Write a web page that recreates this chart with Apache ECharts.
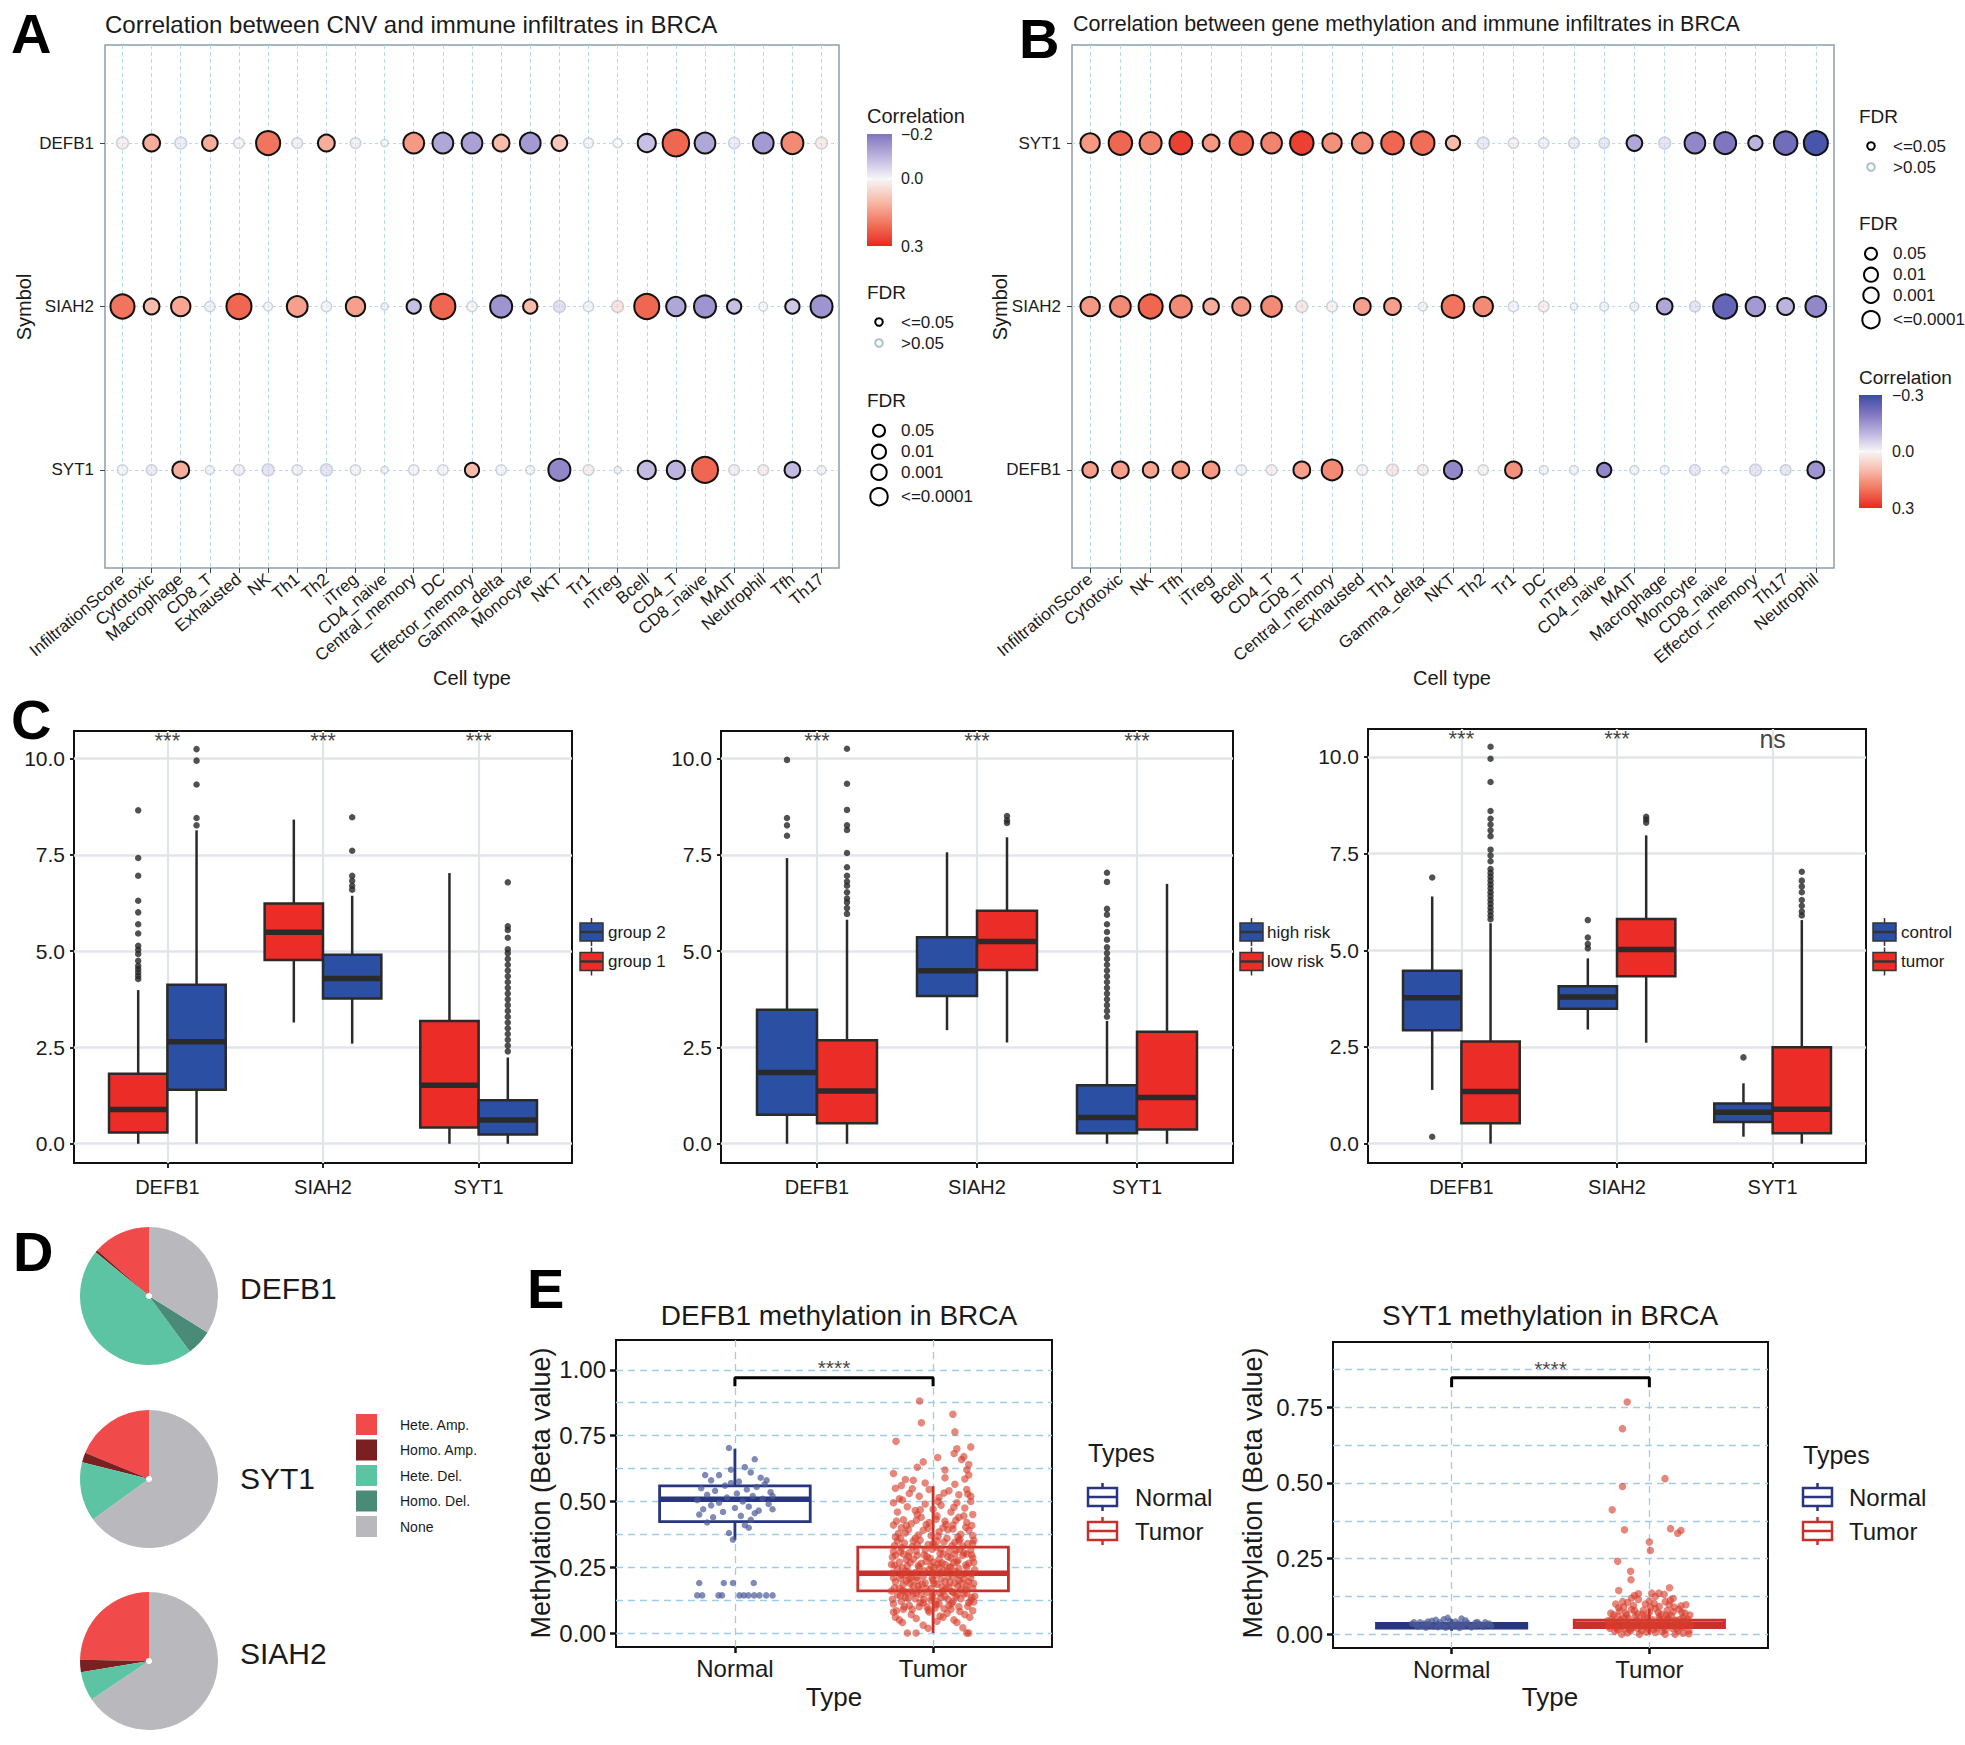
<!DOCTYPE html>
<html>
<head>
<meta charset="utf-8">
<script src="https://cdn.jsdelivr.net/npm/echarts@6/dist/echarts.min.js"></script>
<style>
html,body{margin:0;padding:0;background:#ffffff;}
#chart{width:1965px;height:1745px;}
</style>
</head>
<body>
<div id="chart"></div>
<script>
// ================= DATA =================
// ---- Panel A: CNV vs immune infiltrates ----
const aGenes = ['DEFB1', 'SIAH2', 'SYT1'];
const aCells = ['InfiltrationScore','Cytotoxic','Macrophage','CD8_T','Exhausted','NK','Th1','Th2','iTreg','CD4_naive','Central_memory','DC','Effector_memory','Gamma_delta','Monocyte','NKT','Tr1','nTreg','Bcell','CD4_T','CD8_naive','MAIT','Neutrophil','Tfh','Th17'];
const aCorr_DEFB1 = [0.03,0.12,-0.03,0.12,-0.01,0.20,-0.02,0.12,-0.02,0.00,0.15,-0.12,-0.13,0.10,-0.14,0.08,-0.01,0.00,-0.08,0.22,-0.12,-0.03,-0.14,0.17,0.04];
const aCorr_SIAH2 = [0.20,0.10,0.13,-0.02,0.22,-0.01,0.14,0.01,0.14,-0.01,-0.08,0.22,0.01,-0.15,0.10,-0.06,-0.01,0.06,0.22,-0.12,-0.15,-0.08,0.00,-0.07,-0.15];
const aCorr_SYT1  = [-0.01,-0.03,0.12,-0.01,-0.02,-0.05,-0.02,-0.05,-0.01,-0.01,-0.01,-0.01,0.10,-0.01,-0.01,-0.17,0.03,-0.01,-0.09,-0.10,0.22,0.03,0.03,-0.09,-0.01];
// -log10(FDR)
const aLogFdr_DEFB1 = [1.25,2.5,1.25,2.2,0.85,4.35,0.95,2.5,0.95,0.05,3.5,3.5,3.5,2.5,3.5,2.2,0.77,0.59,2.85,5.0,3.5,1.1,3.5,3.83,1.25];
const aLogFdr_SIAH2 = [4.35,2.2,3.15,0.85,4.6,0.5,3.5,0.85,3.15,0.05,1.85,4.6,0.85,3.83,1.85,1.28,0.85,1.25,4.6,3.15,3.83,1.85,0.5,1.85,3.83];
const aLogFdr_SYT1  = [0.85,0.95,2.5,0.5,0.95,1.28,0.85,1.28,0.85,0.05,0.85,0.85,1.85,0.85,0.5,3.83,0.95,0.05,2.85,2.85,4.85,0.95,0.95,2.2,0.5];

// ---- Panel B: methylation vs immune infiltrates ----
const bGenes = ['SYT1', 'SIAH2', 'DEFB1'];
const bCells = ['InfiltrationScore','Cytotoxic','NK','Tfh','iTreg','Bcell','CD4_T','CD8_T','Central_memory','Exhausted','Th1','Gamma_delta','NKT','Th2','Tr1','DC','nTreg','CD4_naive','MAIT','Macrophage','Monocyte','CD8_naive','Effector_memory','Th17','Neutrophil'];
const bCorr_SYT1  = [0.15,0.22,0.18,0.27,0.15,0.22,0.18,0.27,0.16,0.17,0.22,0.21,0.10,-0.04,0.02,-0.02,-0.03,-0.04,-0.12,-0.05,-0.17,-0.20,-0.10,-0.22,-0.28];
const bCorr_SIAH2 = [0.15,0.17,0.22,0.17,0.12,0.15,0.17,0.05,0.02,0.14,0.14,-0.01,0.20,0.17,-0.01,0.03,0.00,-0.01,-0.02,-0.12,-0.05,-0.24,-0.14,-0.10,-0.17];
const bCorr_DEFB1 = [0.14,0.14,0.13,0.15,0.15,-0.01,0.03,0.14,0.17,0.02,0.05,0.03,-0.17,0.02,0.16,-0.01,-0.01,-0.17,-0.01,-0.01,-0.04,-0.01,-0.05,-0.04,-0.15];
const bLogFdr_SYT1  = [3.15,4.2,3.83,4.0,2.5,4.2,3.5,4.2,3.15,3.5,4.0,4.2,1.85,1.25,0.85,0.85,0.95,0.95,2.2,1.25,3.5,3.83,1.85,4.2,4.35];
const bLogFdr_SIAH2 = [3.15,3.5,4.35,3.83,2.2,2.85,3.5,1.25,0.95,2.5,2.5,0.5,4.0,3.15,0.85,0.95,0.05,0.5,0.5,2.2,0.95,4.35,3.15,2.5,3.5];
const bLogFdr_DEFB1 = [2.2,2.5,2.2,2.5,2.5,0.85,0.95,2.5,3.5,0.95,1.25,0.95,2.85,0.85,2.5,0.5,0.5,1.85,0.5,0.5,0.95,0.05,1.25,0.95,2.5];

// colour scale for correlation (values -> colours)
const corrStopValues = [-0.3,-0.2,-0.1,0,0.1,0.2,0.3];
const corrStopColors = ['#3B4CA6','#8075C0','#BCB3DF','#F7F5F7','#F8BBAA','#F1755E','#E8291F'];
const aCorrTicks = [-0.2, 0.0, 0.3];
const bCorrTicks = [-0.3, 0.0, 0.3];
const fdrSigLabels = ['<=0.05', '>0.05'];
const fdrSizeLabels = ['0.05', '0.01', '0.001', '<=0.0001'];

// ---- Panel C: boxplots [min, Q1, median, Q3, max] per gene ----
const cGenes = ['DEFB1', 'SIAH2', 'SYT1'];
const cYTicks = [0, 2.5, 5, 7.5, 10];
// C1: group 1 (left, red) / group 2 (right, blue)
const c1Names = ['group 1', 'group 2'];
const c1Stats_g1 = [[0,0.29,0.89,1.82,3.99],[3.15,4.77,5.49,6.24,8.42],[0,0.42,1.52,3.19,7.03]];
const c1Stats_g2 = [[0,1.40,2.65,4.13,8.14],[2.60,3.77,4.29,4.91,6.44],[0,0.24,0.62,1.13,2.24]];
const c1Out_g1 = [[4.28,4.36,4.45,4.54,4.62,4.75,4.93,5.04,5.14,5.46,5.70,6.01,6.31,6.96,7.42,8.66],[],[]];
const c1Out_g2 = [[8.27,8.46,9.33,9.95,10.25],[6.60,6.70,6.83,6.96,7.61,8.48],[2.40,2.55,2.70,2.85,3.00,3.15,3.30,3.45,3.60,3.75,3.90,4.05,4.20,4.35,4.50,4.65,4.80,4.95,5.05,5.35,5.55,5.65,6.79]];
const c1Sig = ['***','***','***'];
// C2: high risk (left, blue) / low risk (right, red)
const c2Names = ['high risk', 'low risk'];
const c2Stats_high = [[0,0.75,1.85,3.48,7.42],[2.95,3.84,4.49,5.36,7.57],[0,0.27,0.68,1.52,3.19]];
const c2Stats_low  = [[0,0.53,1.37,2.69,5.82],[2.63,4.51,5.25,6.05,7.96],[0,0.37,1.20,2.91,6.75]];
const c2Out_high = [[8.00,8.27,8.46,9.97],[],[3.30,3.45,3.60,3.75,3.90,4.05,4.20,4.35,4.50,4.65,4.80,4.95,5.10,5.30,5.50,5.70,5.95,6.10,6.80,7.04]];
const c2Out_low  = [[5.97,6.12,6.27,6.37,6.53,6.70,6.81,6.96,7.18,7.55,8.15,8.27,8.67,9.35,10.26],[8.33,8.40,8.51],[]];
const c2Sig = ['***','***','***'];
// C3: control (left, blue) / tumor (right, red)
const c3Names = ['control', 'tumor'];
const c3Stats_control = [[1.39,2.93,3.77,4.47,6.39],[2.95,3.49,3.79,4.07,4.79],[0.18,0.56,0.81,1.04,1.56]];
const c3Stats_tumor   = [[0,0.53,1.35,2.64,5.70],[2.61,4.33,5.02,5.81,7.97],[0,0.27,0.89,2.49,5.78]];
const c3Out_control = [[0.18,6.88],[5.05,5.16,5.33,5.78],[2.23]];
const c3Out_tumor   = [[5.80,5.90,6.00,6.10,6.20,6.30,6.40,6.50,6.60,6.70,6.80,6.90,7.00,7.10,7.30,7.45,7.60,7.95,8.10,8.25,8.40,8.60,9.35,9.95,10.26],[8.30,8.38,8.45],[5.90,6.00,6.15,6.30,6.50,6.65,6.80,7.03]];
const c3Sig = ['***','***','ns'];

// ---- Panel D: CNV composition (%) ----
const dGenes = ['DEFB1', 'SYT1', 'SIAH2'];
const dTypes = ['Hete. Amp.', 'Homo. Amp.', 'Hete. Del.', 'Homo. Del.', 'None'];
const dDEFB1 = [13.5, 0.6, 46.0, 6.0, 33.9];
const dSYT1  = [18.8, 2.3, 13.8, 0.1, 65.0];
const dSIAH2 = [24.7, 2.9, 6.8, 0.0, 65.6];

// ---- Panel E: methylation beta values ----
const eTypes = ['Normal', 'Tumor'];
const e1Title = 'DEFB1 methylation in BRCA';
const e2Title = 'SYT1 methylation in BRCA';
const e1Stats = [[0.354,0.423,0.508,0.559,0.700],[0.000,0.160,0.227,0.326,0.558]];
const e2Stats = [[0.012,0.021,0.028,0.036,0.050],[0.000,0.022,0.033,0.047,0.085]];
const e1YTicks = [0, 0.25, 0.5, 0.75, 1.0];
const e1YGrid  = [0, 0.125, 0.25, 0.375, 0.5, 0.625, 0.75, 0.875, 1.0];
const e2YTicks = [0, 0.25, 0.5, 0.75];
const e2YGrid  = [0, 0.125, 0.25, 0.375, 0.5, 0.625, 0.75, 0.875];
const e1Bracket = [[1,0.937],[1,0.97],[2,0.97],[2,0.937]];
const e2Bracket = [[1,0.816],[1,0.847],[2,0.847],[2,0.816]];
const e1SigLabel = [[1.5, 1.009, '****']];
const e2SigLabel = [[1.5, 0.878, '****']];
// jittered points: [x offset from group centre, beta value]
const e1NormalPts = [
 [-0.18,0.19],[-0.056,0.19],[-0.01,0.19],[0.095,0.19],
 [-0.19,0.143],[-0.165,0.143],[-0.083,0.143],[-0.065,0.143],[0.023,0.143],[0.045,0.143],[0.068,0.143],[0.097,0.143],[0.124,0.143],[0.158,0.143],[0.19,0.143],
 [-0.03,0.703],[0.10,0.66],[-0.02,0.62],[0.05,0.63],[-0.08,0.60],[0.08,0.61],[0.13,0.59],[-0.12,0.58],[0.02,0.575],[-0.02,0.57],[0.15,0.565],[-0.05,0.56],[0.11,0.555],[-0.17,0.55],[0.06,0.545],[-0.10,0.54],[0.18,0.535],[0.01,0.53],[-0.14,0.525],[0.09,0.52],[-0.04,0.515],[0.14,0.51],[-0.19,0.505],[0.04,0.50],[-0.08,0.495],[0.17,0.49],[-0.12,0.485],[0.07,0.48],[0.00,0.475],[-0.16,0.47],[0.12,0.465],[-0.06,0.46],[0.10,0.455],[-0.18,0.45],[0.03,0.445],[-0.11,0.44],[0.08,0.43],[-0.14,0.42],[0.05,0.41],[0.07,0.40],[-0.03,0.38],[-0.01,0.355],[0.16,0.58],[0.19,0.52],[-0.15,0.60],[0.19,0.47]
];
const e1TumorPts = [
 [-0.13,0.0],[-0.086,0.0],[0.17,0.0],[0.18,0.0],[-0.05,0.03],[0.12,0.04],[-0.17,0.05],[0.02,0.045],[0.15,0.02],
 [-0.19,0.06],[-0.11,0.07],[-0.02,0.08],[0.05,0.06],[0.09,0.09],[0.16,0.07],[0.2,0.085],[-0.15,0.09],[-0.07,0.1],[0.01,0.095],[0.13,0.1],[-0.2,0.08],[0.07,0.075],
 [-0.2,0.11],[-0.16,0.12],[-0.12,0.105],[-0.09,0.13],[-0.05,0.115],[-0.01,0.125],[0.03,0.11],[0.06,0.14],[0.1,0.12],[0.14,0.13],[0.18,0.115],[0.21,0.14],[-0.18,0.145],[-0.14,0.135],[-0.06,0.145],[0.0,0.15],[0.04,0.135],[0.08,0.105],[0.12,0.145],[0.17,0.15],[-0.1,0.15],[-0.03,0.1],[0.19,0.125],
 [-0.21,0.16],[-0.17,0.17],[-0.13,0.155],[-0.1,0.18],[-0.07,0.165],[-0.04,0.19],[-0.01,0.17],[0.02,0.185],[0.05,0.16],[0.08,0.175],[0.11,0.19],[0.14,0.165],[0.17,0.18],[0.2,0.17],[-0.19,0.195],[-0.15,0.185],[-0.08,0.2],[0.0,0.2],[0.06,0.195],[0.13,0.2],[0.18,0.195],[-0.11,0.16],[0.1,0.155],[-0.03,0.155],
 [-0.2,0.21],[-0.16,0.22],[-0.12,0.205],[-0.09,0.23],[-0.05,0.215],[-0.02,0.24],[0.01,0.22],[0.04,0.205],[0.07,0.235],[0.1,0.215],[0.13,0.245],[0.16,0.225],[0.19,0.21],[0.21,0.24],[-0.18,0.245],[-0.14,0.235],[-0.07,0.25],[0.03,0.25],[0.09,0.25],[0.17,0.25],[-0.11,0.21],[0.0,0.23],[0.12,0.225],
 [-0.21,0.26],[-0.17,0.27],[-0.13,0.255],[-0.1,0.28],[-0.06,0.265],[-0.03,0.29],[0.0,0.27],[0.03,0.28],[0.06,0.26],[0.09,0.285],[0.12,0.27],[0.15,0.295],[0.18,0.265],[0.2,0.285],[-0.19,0.295],[-0.15,0.3],[-0.08,0.295],[0.05,0.3],[0.11,0.3],[0.17,0.3],[-0.01,0.255],
 [-0.2,0.31],[-0.16,0.325],[-0.12,0.305],[-0.08,0.335],[-0.04,0.315],[0.0,0.34],[0.04,0.32],[0.08,0.31],[0.11,0.345],[0.15,0.33],[0.19,0.315],[-0.18,0.35],[-0.1,0.35],[0.02,0.35],[0.13,0.35],[0.2,0.34],
 [-0.19,0.365],[-0.14,0.38],[-0.09,0.36],[-0.05,0.39],[-0.01,0.37],[0.03,0.385],[0.07,0.36],[0.1,0.395],[0.14,0.375],[0.18,0.39],[-0.16,0.4],[0.05,0.4],[0.2,0.37],
 [-0.2,0.41],[-0.15,0.43],[-0.11,0.415],[-0.06,0.44],[-0.02,0.42],[0.02,0.445],[0.06,0.425],[0.1,0.41],[0.13,0.44],[0.17,0.42],[0.2,0.45],[-0.08,0.45],
 [-0.18,0.46],[-0.13,0.48],[-0.09,0.465],[-0.04,0.49],[0.0,0.47],[0.04,0.485],[0.09,0.46],[0.12,0.495],[0.16,0.475],[0.19,0.5],[-0.2,0.495],
 [-0.17,0.51],[-0.12,0.53],[-0.07,0.52],[-0.02,0.545],[0.03,0.515],[0.08,0.54],[0.13,0.525],[0.17,0.545],[-0.19,0.55],[0.19,0.52],
 [-0.16,0.56],[-0.1,0.58],[-0.04,0.57],[0.06,0.59],[0.11,0.565],[0.16,0.585],[-0.14,0.583],[0.18,0.6],
 [-0.2,0.606],[0.06,0.619],[0.144,0.659],[0.18,0.64],[-0.08,0.63],[0.106,0.682],[0.023,0.667],[0.19,0.707],[0.12,0.7],[-0.05,0.65],[0.17,0.62],[0.155,0.67],
 [-0.187,0.728],[0.11,0.764],[-0.059,0.799],[0.10,0.831],[-0.068,0.881]
];
const e1TumorPts2 = [
 [-0.185,0.085],[-0.145,0.1],[-0.105,0.09],[-0.065,0.115],[-0.025,0.088],[0.015,0.108],[0.055,0.092],[0.095,0.112],[0.135,0.082],[0.175,0.102],[0.205,0.118],
 [-0.205,0.128],[-0.165,0.142],[-0.125,0.132],[-0.085,0.152],[-0.045,0.128],[-0.005,0.138],[0.035,0.152],[0.075,0.128],[0.115,0.138],[0.155,0.148],[0.195,0.135],[-0.145,0.158],[0.015,0.122],[0.095,0.158],
 [-0.195,0.172],[-0.155,0.162],[-0.115,0.188],[-0.075,0.178],[-0.035,0.168],[0.005,0.188],[0.045,0.176],[0.085,0.192],[0.125,0.178],[0.165,0.166],[0.205,0.188],[-0.135,0.198],[-0.055,0.186],[0.065,0.168],[0.145,0.19],
 [-0.205,0.228],[-0.165,0.208],[-0.125,0.232],[-0.085,0.212],[-0.045,0.236],[-0.005,0.208],[0.035,0.228],[0.075,0.214],[0.115,0.234],[0.155,0.206],[0.195,0.226],[-0.145,0.222],[0.055,0.238],[0.135,0.218],
 [-0.195,0.258],[-0.155,0.248],[-0.115,0.268],[-0.075,0.256],[-0.035,0.272],[0.005,0.248],[0.045,0.266],[0.085,0.252],[0.125,0.276],[0.165,0.258],[0.205,0.268],[-0.135,0.278],[0.025,0.262],[0.105,0.268],
 [-0.205,0.288],[-0.165,0.308],[-0.125,0.292],[-0.085,0.312],[-0.045,0.296],[-0.005,0.318],[0.035,0.302],[0.075,0.29],[0.115,0.314],[0.155,0.304],[0.195,0.296],[-0.015,0.284],[0.135,0.318],
 [-0.195,0.332],[-0.145,0.342],[-0.105,0.328],[-0.065,0.352],[-0.025,0.336],[0.015,0.326],[0.055,0.346],[0.095,0.332],[0.135,0.356],[0.175,0.34],[-0.165,0.36],[0.205,0.352],
 [-0.175,0.378],[-0.125,0.392],[-0.075,0.372],[-0.025,0.398],[0.025,0.368],[0.075,0.392],[0.125,0.366],[0.165,0.402],[-0.185,0.425],[-0.135,0.408],[-0.085,0.428],[-0.035,0.412],[0.015,0.432],[0.065,0.412],[0.115,0.428],[0.155,0.445],[0.195,0.408],
 [-0.155,0.505],[-0.065,0.468],[0.025,0.5],[0.105,0.478],[0.175,0.528],[-0.105,0.548],[0.055,0.532],
 [-0.155,0.04],[-0.085,0.055],[0.035,0.065],[0.105,0.05],[0.185,0.06],[-0.025,0.018]
];
const e2NormalPts = [
 [-0.18,0.03],[-0.15,0.028],[-0.12,0.034],[-0.09,0.026],[-0.06,0.04],[-0.03,0.031],[0.0,0.036],[0.03,0.027],[0.06,0.033],[0.09,0.029],[0.12,0.038],[0.15,0.03],[0.18,0.032],[-0.16,0.04],[-0.1,0.045],[-0.04,0.05],[0.02,0.042],[0.07,0.046],[0.13,0.041],[-0.13,0.022],[-0.07,0.024],[0.04,0.021],[0.1,0.023],[0.16,0.025],[-0.02,0.055],[-0.08,0.048],[0.05,0.052],[-0.2,0.035],[0.2,0.028],[0.0,0.025],
 [-0.19,0.04],[-0.17,0.025],[-0.14,0.036],[-0.11,0.03],[-0.05,0.028],[-0.01,0.044],[0.01,0.03],[0.08,0.038],[0.11,0.03],[0.14,0.035],[0.17,0.04],[0.19,0.036],[-0.07,0.034],[0.035,0.036],[0.06,0.026],[-0.12,0.042],[0.125,0.026],[-0.03,0.022]
];
const e2TumorPts = [
 [-0.2,0.02],[-0.17,0.035],[-0.14,0.025],[-0.11,0.04],[-0.08,0.03],[-0.05,0.045],[-0.02,0.028],[0.01,0.038],[0.04,0.022],[0.07,0.042],[0.1,0.031],[0.13,0.047],[0.16,0.026],[0.19,0.039],[0.21,0.03],
 [-0.19,0.05],[-0.16,0.015],[-0.13,0.055],[-0.1,0.018],[-0.07,0.06],[-0.04,0.012],[-0.01,0.052],[0.02,0.016],[0.05,0.058],[0.08,0.014],[0.11,0.062],[0.14,0.019],[0.17,0.055],[0.2,0.012],
 [-0.18,0.065],[-0.12,0.07],[-0.06,0.068],[0.0,0.072],[0.06,0.066],[0.12,0.075],[0.18,0.07],[-0.15,0.078],[-0.09,0.082],[-0.03,0.08],[0.03,0.085],[0.09,0.079],[0.15,0.083],
 [-0.14,0.0],[-0.05,0.0],[0.08,0.0],[0.13,0.0],[-0.11,0.005],[0.03,0.006],[0.17,0.004],
 [-0.13,0.09],[-0.08,0.095],[-0.02,0.1],[0.05,0.092],[0.1,0.098],[0.16,0.094],[-0.17,0.1],[-0.11,0.105],[0.0,0.11],[0.08,0.108],
 [-0.21,0.045],[-0.06,0.02],[0.015,0.03],[0.09,0.05],[0.15,0.035],[-0.12,0.03],[0.06,0.04],[-0.03,0.04],[0.18,0.045],[-0.16,0.06],[0.12,0.028],
 [-0.155,0.145],[-0.055,0.134],[0.012,0.136],[0.048,0.136],[0.102,0.154],[-0.09,0.12],[0.03,0.125],[0.12,0.118],
 [-0.093,0.18],[-0.095,0.208],[-0.16,0.241],[0.005,0.277],[0.0,0.305],[0.143,0.334],[0.16,0.343],[0.107,0.349],[-0.126,0.345],[-0.188,0.411],[0.079,0.514],[-0.136,0.488],[-0.136,0.679],[-0.112,0.767]
];
const e2TumorPts2 = [
 [-0.205,0.028],[-0.185,0.042],[-0.165,0.022],[-0.145,0.048],[-0.125,0.018],[-0.105,0.052],[-0.085,0.022],[-0.065,0.046],[-0.045,0.026],[-0.025,0.058],[-0.005,0.018],[0.015,0.048],[0.035,0.03],[0.055,0.05],[0.075,0.024],[0.095,0.056],[0.115,0.02],[0.135,0.044],[0.155,0.05],[0.175,0.024],[0.195,0.05],
 [-0.195,0.07],[-0.155,0.088],[-0.115,0.064],[-0.075,0.078],[-0.035,0.066],[0.005,0.09],[0.045,0.072],[0.085,0.064],[0.125,0.09],[0.165,0.072],[0.205,0.064],
 [-0.175,0.01],[-0.095,0.012],[-0.015,0.008],[0.065,0.01],[0.145,0.01],[0.2,0.002],
 [-0.135,0.108],[-0.055,0.115],[0.025,0.102],[0.105,0.112],[0.185,0.098],[-0.075,0.128],[0.075,0.132]
];

// ================= STYLE / LAYOUT =================
const FONT = '"Liberation Sans", Arial, Helvetica, sans-serif';
const INK = '#1a1a1a';
const C_RED = '#EC2C26', C_BLUE = '#2B4FA3', C_EDGE = '#2a2a2a';
const E_NAVY = '#27367E', E_RED = '#C9302C';
const PIE_COLORS = ['#F04A4A', '#7A2020', '#5DC4A3', '#4A8B78', '#B9B9BD'];
const SIG_LOG = -Math.log10(0.05);

const chart = echarts.init(document.getElementById('chart'), null, {renderer: 'svg', width: 1965, height: 1745});

const grids = [
  {left: 105,  top: 45,   width: 734, height: 523, show: true, borderColor: '#8d9dab', borderWidth: 1.5},  // 0 A
  {left: 1072, top: 45,   width: 762, height: 523, show: true, borderColor: '#8d9dab', borderWidth: 1.5},  // 1 B
  {left: 74,   top: 731,  width: 498, height: 432, show: true, borderColor: '#111', borderWidth: 2},       // 2 C1
  {left: 721,  top: 731,  width: 512, height: 432, show: true, borderColor: '#111', borderWidth: 2},       // 3 C2
  {left: 1368, top: 729,  width: 498, height: 434, show: true, borderColor: '#111', borderWidth: 2},       // 4 C3
  {left: 616,  top: 1340, width: 436, height: 307, show: true, borderColor: '#111', borderWidth: 2},       // 5 E1
  {left: 1333, top: 1342, width: 435, height: 306, show: true, borderColor: '#111', borderWidth: 2}        // 6 E2
].map(g => Object.assign({outerBoundsMode: 'none', containLabel: false, backgroundColor: 'transparent'}, g));

const idx = arr => arr.map((_, i) => i);
const lbl = (size, extra) => Object.assign({fontSize: size, fontFamily: FONT, color: INK}, extra || {});

// ---- axes ----
const xAxes = [], yAxes = [];
// A
xAxes.push({type: 'value', gridIndex: 0, min: -0.6, max: 24.6,
  axisLine: {show: false, onZero: false},
  axisTick: {show: true, customValues: idx(aCells), length: 5, lineStyle: {color: '#444', width: 1}},
  axisLabel: lbl(17, {customValues: idx(aCells), formatter: v => aCells[Math.round(v)], rotate: 40, margin: 9}),
  splitLine: {show: true, lineStyle: {color: '#b3daef', width: 1, type: [4, 3]}}});
yAxes.push({type: 'value', gridIndex: 0, min: -0.6, max: 2.6, inverse: true,
  axisLine: {show: false, onZero: false},
  axisTick: {show: true, customValues: idx(aGenes), length: 5, lineStyle: {color: '#444', width: 1}},
  axisLabel: lbl(17, {customValues: idx(aGenes), formatter: v => aGenes[Math.round(v)], margin: 11}),
  splitLine: {show: true, lineStyle: {color: '#b3daef', width: 1, type: [3, 3]}}});
// B
xAxes.push({type: 'value', gridIndex: 1, min: -0.6, max: 24.6,
  axisLine: {show: false, onZero: false},
  axisTick: {show: true, customValues: idx(bCells), length: 5, lineStyle: {color: '#444', width: 1}},
  axisLabel: lbl(17, {customValues: idx(bCells), formatter: v => bCells[Math.round(v)], rotate: 40, margin: 9}),
  splitLine: {show: true, lineStyle: {color: '#b3daef', width: 1, type: [4, 3]}}});
yAxes.push({type: 'value', gridIndex: 1, min: -0.6, max: 2.6, inverse: true,
  axisLine: {show: false, onZero: false},
  axisTick: {show: true, customValues: idx(bGenes), length: 5, lineStyle: {color: '#444', width: 1}},
  axisLabel: lbl(17, {customValues: idx(bGenes), formatter: v => bGenes[Math.round(v)], margin: 11}),
  splitLine: {show: true, lineStyle: {color: '#b3daef', width: 1, type: [3, 3]}}});
// C1..C3
[2, 3, 4].forEach(gi => {
  xAxes.push({type: 'value', gridIndex: gi, min: 0.4, max: 3.6,
    axisLine: {show: false, onZero: false},
    axisTick: {show: true, customValues: [1, 2, 3], length: 5, lineStyle: {color: '#222', width: 2}},
    axisLabel: lbl(20, {customValues: [1, 2, 3], formatter: v => cGenes[Math.round(v) - 1], margin: 14}),
    splitLine: {show: true, lineStyle: {color: '#e0e5ea', width: 2.2}}});
  yAxes.push({type: 'value', gridIndex: gi, min: -0.5, max: 10.72,
    axisLine: {show: false, onZero: false},
    axisTick: {show: true, customValues: cYTicks, length: 4, lineStyle: {color: '#222', width: 2}},
    axisLabel: lbl(21, {customValues: cYTicks, formatter: v => v.toFixed(1), margin: 9}),
    splitLine: {show: true, lineStyle: {color: '#e0e5ea', width: 2.5}}});
});
// E1, E2 (grid-line axis + label axis on each)
[[5, -0.053, 1.113, e1YGrid, e1YTicks], [6, -0.045, 0.965, e2YGrid, e2YTicks]].forEach(([gi, mn, mx, gridV, tickV]) => {
  xAxes.push({type: 'value', gridIndex: gi, min: 0.4, max: 2.6,
    axisLine: {show: false, onZero: false},
    axisTick: {show: true, customValues: [1, 2], length: 6, lineStyle: {color: '#111', width: 2.5}},
    axisLabel: lbl(24, {customValues: [1, 2], formatter: v => eTypes[Math.round(v) - 1], margin: 9}),
    splitLine: {show: true, lineStyle: {color: '#9fcde6', width: 1.3, type: [7, 5]}}});
  yAxes.push({type: 'value', gridIndex: gi, min: mn, max: mx, position: 'left',
    axisLine: {show: false, onZero: false},
    axisTick: {show: false, customValues: gridV},
    axisLabel: {show: false},
    splitLine: {show: true, lineStyle: {color: '#9fcde6', width: 1.3, type: [7, 5]}}});
  yAxes.push({type: 'value', gridIndex: gi, min: mn, max: mx, position: 'left',
    axisLine: {show: false, onZero: false},
    axisTick: {show: true, customValues: tickV, length: 6, lineStyle: {color: '#111', width: 2.5}},
    axisLabel: lbl(24, {customValues: tickV, formatter: v => v.toFixed(2), margin: 10}),
    splitLine: {show: false}});
});
// yAxis indices: 0 A, 1 B, 2 C1, 3 C2, 4 C3, 5 E1grid, 6 E1label, 7 E2grid, 8 E2label

// ---- series ----
const series = [];
function dotItems(genes, cells, corrRows, fdrRows) {
  const items = [];
  genes.forEach((g, gi) => cells.forEach((c, ci) => {
    const s = fdrRows[gi][ci];
    const sig = s >= SIG_LOG;
    items.push({value: [ci, gi, corrRows[gi][ci], s],
      itemStyle: sig ? {borderColor: '#111', borderWidth: 2, opacity: 1}
                     : {borderColor: '#aebfcb', borderWidth: 1.5, opacity: 0.62}});
  }));
  return items;
}
series.push({type: 'scatter', xAxisIndex: 0, yAxisIndex: 0, silent: true, z: 5,
  data: dotItems(aGenes, aCells, [aCorr_DEFB1, aCorr_SIAH2, aCorr_SYT1], [aLogFdr_DEFB1, aLogFdr_SIAH2, aLogFdr_SYT1])});
series.push({type: 'scatter', xAxisIndex: 1, yAxisIndex: 1, silent: true, z: 5,
  data: dotItems(bGenes, bCells, [bCorr_SYT1, bCorr_SIAH2, bCorr_DEFB1], [bLogFdr_SYT1, bLogFdr_SIAH2, bLogFdr_DEFB1])});

function makeBoxRender(boxW, fill, stroke, lw, medLw, medColor) {
  return function (params, api) {
    const x = api.value(0);
    const lo = api.coord([x, api.value(1)]);
    const q1 = api.coord([x, api.value(2)]);
    const md = api.coord([x, api.value(3)]);
    const q3 = api.coord([x, api.value(4)]);
    const hi = api.coord([x, api.value(5)]);
    const w = api.size([boxW, 0])[0];
    const cx = lo[0];
    return {type: 'group', children: [
      {type: 'line', shape: {x1: cx, y1: lo[1], x2: cx, y2: q1[1]}, style: {stroke: stroke, lineWidth: lw}},
      {type: 'line', shape: {x1: cx, y1: q3[1], x2: cx, y2: hi[1]}, style: {stroke: stroke, lineWidth: lw}},
      {type: 'rect', shape: {x: cx - w / 2, y: q3[1], width: w, height: q1[1] - q3[1]}, style: {fill: fill, stroke: stroke, lineWidth: lw}},
      {type: 'line', shape: {x1: cx - w / 2, y1: md[1], x2: cx + w / 2, y2: md[1]}, style: {stroke: medColor || stroke, lineWidth: medLw}}
    ]};
  };
}
function boxSeries(xi, yi, stats, offset, fill, stroke, boxW, lw, medLw, z) {
  return {type: 'custom', xAxisIndex: xi, yAxisIndex: yi, silent: true, z: z,
    data: stats.map((s, i) => [i + 1 + offset].concat(s)),
    encode: {x: 0, y: [1, 2, 3, 4, 5]},
    renderItem: makeBoxRender(boxW, fill, stroke, lw, medLw)};
}
function outlierSeries(xi, yi, outs, offset) {
  const data = [];
  outs.forEach((vals, gi) => vals.forEach(v => data.push([gi + 1 + offset, v])));
  return {type: 'scatter', xAxisIndex: xi, yAxisIndex: yi, silent: true, z: 4, symbolSize: 6.5,
    itemStyle: {color: '#262626'}, data: data};
}
function sigSeries(xi, yi, labels, yv) {
  return {type: 'scatter', xAxisIndex: xi, yAxisIndex: yi, silent: true, z: 10, symbolSize: 1,
    itemStyle: {color: 'rgba(0,0,0,0)'},
    label: {show: true, position: 'inside', color: '#111', fontFamily: FONT},
    data: labels.map((t, i) => ({value: [i + 1, yv], label: {formatter: t, fontSize: t === 'ns' ? 25 : 22}}))};
}
const DODGE = 0.1875, CBOX = 0.375, SIG_Y = 10.47;
const cPanels = [
  {ax: 2, left: [c1Stats_g1, c1Out_g1, C_RED], right: [c1Stats_g2, c1Out_g2, C_BLUE], sig: c1Sig},
  {ax: 3, left: [c2Stats_high, c2Out_high, C_BLUE], right: [c2Stats_low, c2Out_low, C_RED], sig: c2Sig},
  {ax: 4, left: [c3Stats_control, c3Out_control, C_BLUE], right: [c3Stats_tumor, c3Out_tumor, C_RED], sig: c3Sig}
];
cPanels.forEach(p => {
  series.push(boxSeries(p.ax, p.ax, p.left[0], -DODGE, p.left[2], C_EDGE, CBOX, 2.5, 5.5, 3));
  series.push(boxSeries(p.ax, p.ax, p.right[0], DODGE, p.right[2], C_EDGE, CBOX, 2.5, 5.5, 3));
  series.push(outlierSeries(p.ax, p.ax, p.left[1], -DODGE));
  series.push(outlierSeries(p.ax, p.ax, p.right[1], DODGE));
  series.push(sigSeries(p.ax, p.ax, p.sig, SIG_Y));
});

// E panels
function ptsSeries(xi, yi, pts, center, color, opacity, size) {
  return {type: 'scatter', xAxisIndex: xi, yAxisIndex: yi, silent: true, z: 4, symbolSize: size,
    itemStyle: {color: color, opacity: opacity}, data: pts.map(p => [center + p[0], p[1]])};
}
[[5, 5, e1Stats, e1NormalPts, e1TumorPts.concat(e1TumorPts2), e1Bracket, e1SigLabel],
 [6, 7, e2Stats, e2NormalPts, e2TumorPts.concat(e2TumorPts2), e2Bracket, e2SigLabel]].forEach(([xi, yi, st, np, tp, br, sl]) => {
  series.push(boxSeries(xi, yi, [st[0]], 0, '#ffffff', E_NAVY, 0.76, 2.8, 5.5, 2));
  series.push(boxSeries(xi, yi, [st[0], st[1]].slice(1), 1, '#ffffff', E_RED, 0.76, 2.8, 5.5, 2));
  series.push(ptsSeries(xi, yi, np, 1, '#4A5898', 0.7, 6.5));
  series.push(ptsSeries(xi, yi, tp, 2, '#D63D2C', 0.62, 7.5));
  series.push({type: 'line', xAxisIndex: xi, yAxisIndex: yi, silent: true, z: 6, symbol: 'none',
    lineStyle: {color: '#000', width: 3}, data: br});
  series.push({type: 'scatter', xAxisIndex: xi, yAxisIndex: yi, silent: true, z: 10, symbolSize: 1,
    itemStyle: {color: 'rgba(0,0,0,0)'},
    label: {show: true, position: 'inside', color: '#111', fontFamily: FONT, fontSize: 21, formatter: p => sl[p.dataIndex][2]},
    data: sl.map(s => [s[0], s[1]])});
});

// D pies
const dRows = [dDEFB1, dSYT1, dSIAH2];
const dCenters = [[149, 1296], [149, 1479], [149, 1661]];
dGenes.forEach((g, i) => {
  series.push({type: 'pie', name: g, center: dCenters[i], radius: [3, 69], startAngle: 90, clockwise: false,
    silent: true, label: {show: false}, labelLine: {show: false}, color: PIE_COLORS,
    itemStyle: {borderWidth: 0}, emphasis: {disabled: true},
    data: dTypes.map((t, k) => ({name: t, value: dRows[i][k]}))});
});

// ---- graphic: titles, axis titles, legends ----
const G = [];
function T(x, y, text, size, o) {
  o = o || {};
  G.push({type: 'text', x: x, y: y, rotation: o.rot || 0, silent: true, z: 100,
    style: {text: text, fontSize: size, fontFamily: FONT, fontWeight: o.bold ? 'bold' : 'normal', fill: o.color || INK,
      align: o.align || 'left', verticalAlign: 'middle', textAlign: o.align || 'left', textVerticalAlign: 'middle'}});
}
function L(x1, y1, x2, y2, stroke, lw, z) {
  G.push({type: 'line', silent: true, z: z || 100, shape: {x1: x1, y1: y1, x2: x2, y2: y2}, style: {stroke: stroke, lineWidth: lw}});
}
function R(x, y, w, h, fill, stroke, lw, z) {
  G.push({type: 'rect', silent: true, z: z || 99, shape: {x: x, y: y, width: w, height: h}, style: {fill: fill, stroke: stroke || null, lineWidth: lw || 0}});
}
function Cc(cx, cy, r, stroke, lw) {
  G.push({type: 'circle', silent: true, z: 100, shape: {cx: cx, cy: cy, r: r}, style: {fill: '#ffffff', stroke: stroke, lineWidth: lw}});
}
// panel letters
T(11, 33, 'A', 56, {bold: true, color: '#000'});
T(1019, 38, 'B', 56, {bold: true, color: '#000'});
T(11, 719, 'C', 56, {bold: true, color: '#000'});
T(13, 1251, 'D', 56, {bold: true, color: '#000'});
T(527, 1288, 'E', 56, {bold: true, color: '#000'});
// titles
T(105, 24, 'Correlation between CNV and immune infiltrates in BRCA', 24);
T(1073, 24, 'Correlation between gene methylation and immune infiltrates in BRCA', 21.5);
T(839, 1315, e1Title, 28, {align: 'center'});
T(1550, 1315, e2Title, 28, {align: 'center'});
// axis titles
T(24, 307, 'Symbol', 20, {align: 'center', rot: Math.PI / 2});
T(472, 678, 'Cell type', 20, {align: 'center'});
T(1000, 307, 'Symbol', 20, {align: 'center', rot: Math.PI / 2});
T(1452, 678, 'Cell type', 20, {align: 'center'});
T(541, 1493, 'Methylation (Beta value)', 27, {align: 'center', rot: Math.PI / 2});
T(834, 1697, 'Type', 26, {align: 'center'});
T(1253, 1493, 'Methylation (Beta value)', 27, {align: 'center', rot: Math.PI / 2});
T(1550, 1697, 'Type', 26, {align: 'center'});

// colour bars
function colorBar(x, y, w, h, vmin, vmax, ticks, labelX) {
  const stops = [];
  corrStopValues.forEach((v, i) => {
    if (v >= vmin - 1e-9 && v <= vmax + 1e-9) stops.push({offset: (v - vmin) / (vmax - vmin), color: corrStopColors[i]});
  });
  G.push({type: 'rect', silent: true, z: 99, shape: {x: x, y: y, width: w, height: h},
    style: {fill: {type: 'linear', x: 0, y: 0, x2: 0, y2: 1, colorStops: stops}}});
  ticks.forEach(t => {
    const ty = y + (t - vmin) / (vmax - vmin) * h;
    if (t > vmin && t < vmax) { L(x, ty, x + 5, ty, '#ffffff', 1.2); L(x + w - 5, ty, x + w, ty, '#ffffff', 1.2); }
    T(labelX, ty, (t < 0 ? '\u2212' : '') + Math.abs(t).toFixed(1), 16);
  });
}
function sigLegend(x, y) {
  T(x, y, 'FDR', 19);
  Cc(x + 12, y + 30, 3.8, '#000', 2); T(x + 34, y + 30, fdrSigLabels[0], 17);
  Cc(x + 12, y + 51, 3.8, '#a9bfcc', 2); T(x + 34, y + 51, fdrSigLabels[1], 17);
}
function sizeLegend(x, y) {
  T(x, y, 'FDR', 19);
  const dy = [30.7, 51.7, 72.3, 96.7], rr = [6, 7, 7.7, 8.7];
  fdrSizeLabels.forEach((t, i) => { Cc(x + 12, y + dy[i], rr[i], '#000', 2); T(x + 34, y + dy[i], t, 17); });
}
// A legends
T(867, 116, 'Correlation', 20);
colorBar(867, 134, 25, 112, -0.2, 0.3, aCorrTicks, 901);
sigLegend(867, 292);
sizeLegend(867, 400);
// B legends
sigLegend(1859, 116);
sizeLegend(1859, 223);
T(1859, 377, 'Correlation', 19);
colorBar(1859, 395, 23, 113, -0.3, 0.3, bCorrTicks, 1892);

// C legends (boxplot glyphs)
function cKey(x, yc, fill) {
  L(x + 11.5, yc - 14, x + 11.5, yc - 9, '#333', 1.5);
  L(x + 11.5, yc + 9, x + 11.5, yc + 14, '#333', 1.5);
  R(x, yc - 9, 23, 18, fill, '#333', 1.5, 101);
  L(x, yc, x + 23, yc, '#333', 2.5, 102);
}
[[580, 608, c1Names[1], C_BLUE, c1Names[0], C_RED],
 [1240, 1267, c2Names[0], C_BLUE, c2Names[1], C_RED],
 [1873, 1901, c3Names[0], C_BLUE, c3Names[1], C_RED]].forEach(([kx, tx, n1, col1, n2, col2]) => {
  cKey(kx, 932, col1); T(tx, 932, n1, 17);
  cKey(kx, 961.5, col2); T(tx, 961.5, n2, 17);
});

// D legend + labels
dTypes.forEach((t, i) => {
  R(356, 1414 + i * 25.5, 21, 21, PIE_COLORS[i]);
  T(400, 1424.5 + i * 25.5, t, 14);
});
T(240, 1288, dGenes[0], 30);
T(240, 1478, dGenes[1], 30);
T(240, 1653, dGenes[2], 30);

// E legends
function eKey(x, yc, color) {
  L(x + 14.5, yc - 14, x + 14.5, yc - 9, color, 2.5);
  L(x + 14.5, yc + 9, x + 14.5, yc + 14, color, 2.5);
  R(x, yc - 9, 29, 18, '#ffffff', color, 2.5, 101);
  L(x + 1, yc, x + 28, yc, color, 2.5, 102);
}
[[1088, 1135, 1453], [1803, 1849, 1455]].forEach(([kx, tx, ty]) => {
  T(kx, ty, 'Types', 25);
  eKey(kx, 1497, E_NAVY); T(tx, 1497, eTypes[0], 24);
  eKey(kx, 1531, E_RED); T(tx, 1531, eTypes[1], 24);
});

const option = {
  animation: false,
  backgroundColor: '#ffffff',
  textStyle: {fontFamily: FONT},
  grid: grids,
  xAxis: xAxes,
  yAxis: yAxes,
  visualMap: [
    {show: false, type: 'continuous', seriesIndex: 0, dimension: 2, min: -0.2, max: 0.3, inRange: {color: corrStopColors.slice(1)}},
    {show: false, type: 'continuous', seriesIndex: 0, dimension: 3, min: 0, max: 5, inRange: {symbolSize: [7, 26.6]}},
    {show: false, type: 'continuous', seriesIndex: 1, dimension: 2, min: -0.3, max: 0.3, inRange: {color: corrStopColors}},
    {show: false, type: 'continuous', seriesIndex: 1, dimension: 3, min: 0, max: 5, inRange: {symbolSize: [7, 26.6]}}
  ],
  series: series,
  graphic: {elements: G}
};
chart.setOption(option);
</script>
</body>
</html>
